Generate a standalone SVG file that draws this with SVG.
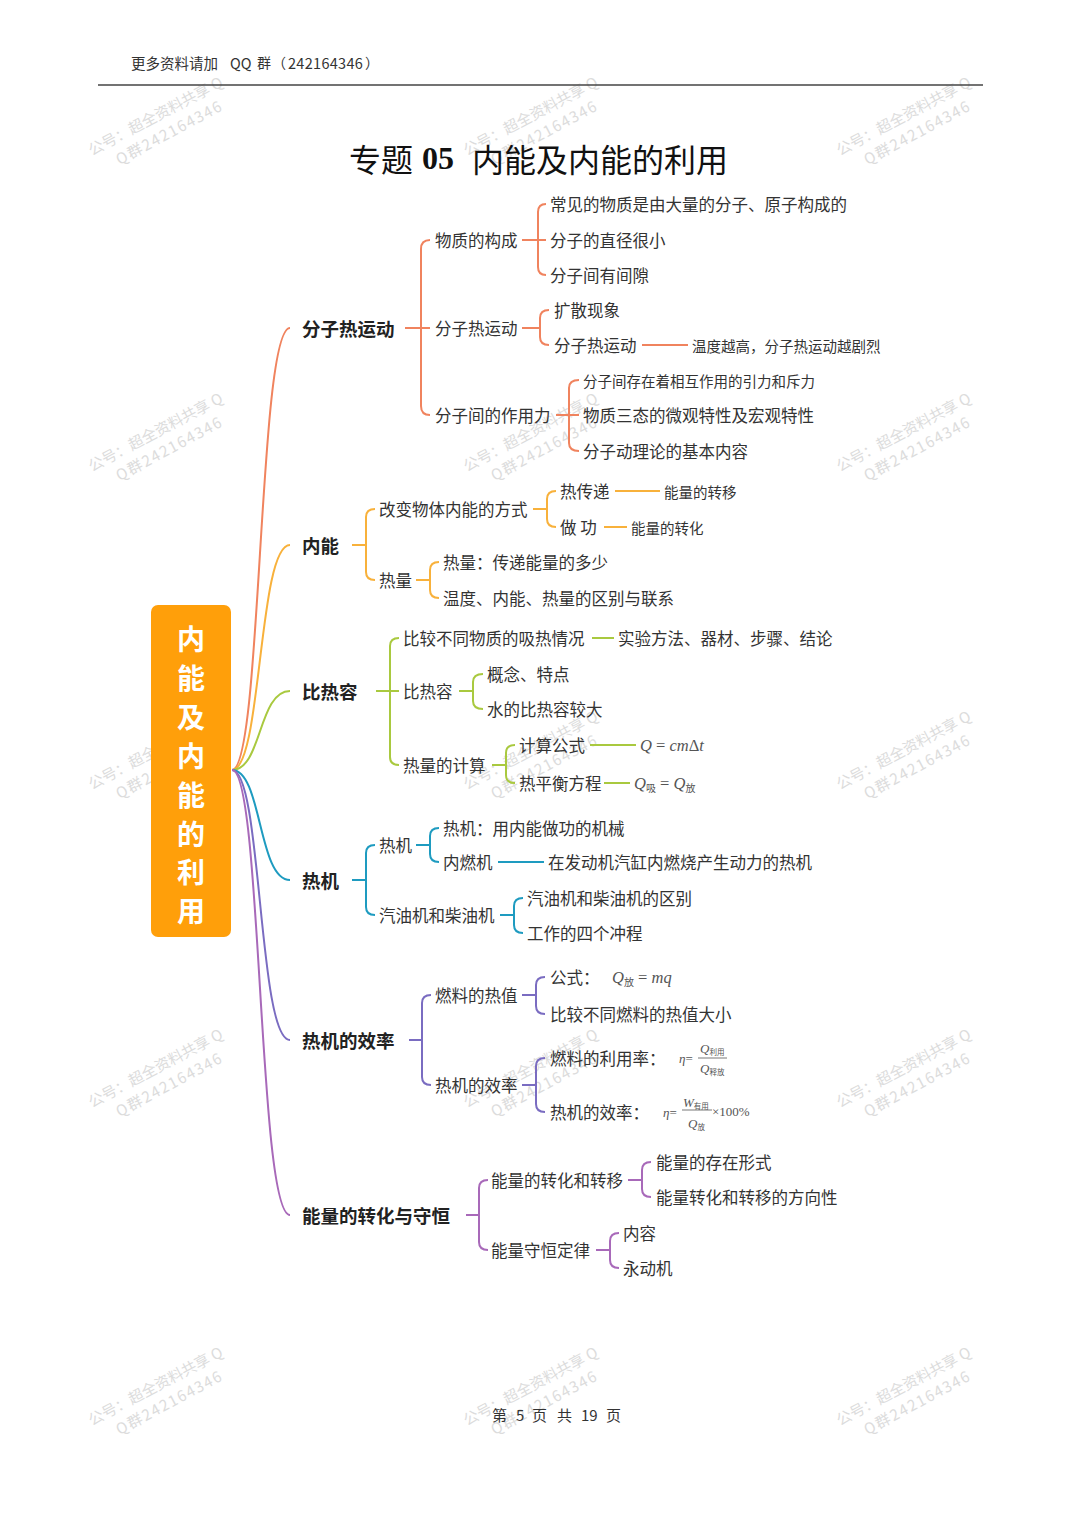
<svg xmlns="http://www.w3.org/2000/svg" xmlns:xlink="http://www.w3.org/1999/xlink" width="1080" height="1527" viewBox="0 0 1080 1527">
<style>
.t{font-family:"Noto Sans CJK SC","Noto Sans",sans-serif;fill:#333;dominant-baseline:central}
.m{font-size:18.5px;font-weight:bold;fill:#222}
.c{font-size:16.5px}
.s{font-size:14.5px}
.f{font-family:"Liberation Serif","Noto Sans CJK SC",serif;font-style:italic;fill:#555;font-size:16.5px;dominant-baseline:central}
.sub{font-family:"Noto Sans CJK SC",sans-serif;font-style:normal;font-size:10px}
.wm{font-family:"Noto Sans CJK SC","Noto Sans",sans-serif;font-size:15px;fill:#dcdcdc}
.root{font-family:"Noto Sans CJK SC",sans-serif;font-size:28px;font-weight:bold;fill:#fff;text-anchor:middle;dominant-baseline:central}
path{fill:none;stroke-width:2}
.c1{stroke:#F0835E}.c2{stroke:#F8B13B}.c3{stroke:#A9C93F}.c4{stroke:#1E9BC0}.c5{stroke:#7A6CC1}.c6{stroke:#A869B9}
</style>
<defs>
<g id="wmk"><text class="wm" x="0" y="0">公号：超全资料共享 Q</text><text class="wm" x="20" y="21" style="letter-spacing:1.6px">Q群242164346</text></g>
</defs>
<rect width="1080" height="1527" fill="#fff"/>
<g id="watermarks">
<use xlink:href="#wmk" transform="translate(92,156) rotate(-28)"/>
<use xlink:href="#wmk" transform="translate(467,156) rotate(-28)"/>
<use xlink:href="#wmk" transform="translate(840,156) rotate(-28)"/>
<use xlink:href="#wmk" transform="translate(92,472) rotate(-28)"/>
<use xlink:href="#wmk" transform="translate(467,472) rotate(-28)"/>
<use xlink:href="#wmk" transform="translate(840,472) rotate(-28)"/>
<use xlink:href="#wmk" transform="translate(92,790) rotate(-28)"/>
<use xlink:href="#wmk" transform="translate(467,790) rotate(-28)"/>
<use xlink:href="#wmk" transform="translate(840,790) rotate(-28)"/>
<use xlink:href="#wmk" transform="translate(92,1108) rotate(-28)"/>
<use xlink:href="#wmk" transform="translate(467,1108) rotate(-28)"/>
<use xlink:href="#wmk" transform="translate(840,1108) rotate(-28)"/>
<use xlink:href="#wmk" transform="translate(92,1426) rotate(-28)"/>
<use xlink:href="#wmk" transform="translate(467,1426) rotate(-28)"/>
<use xlink:href="#wmk" transform="translate(840,1426) rotate(-28)"/>
</g>
<g id="header">
<text x="131" y="62" class="t" style="font-size:14.5px">更多资料请加</text>
<text x="230" y="62" class="t" style="font-size:14.5px">QQ</text>
<text x="257" y="62" class="t" style="font-size:14px">群</text>
<text x="272" y="62" class="t" style="font-size:14px">（</text>
<text x="288" y="62" class="t" style="font-size:14.5px;letter-spacing:0.3px">242164346</text>
<text x="365" y="62" class="t" style="font-size:14px">）</text>
<line x1="98" y1="85" x2="983" y2="85" stroke="#444" stroke-width="1.5"/>
</g>
<g id="title">
<text x="349" y="158" class="t" style="font-size:32px;fill:#111">专题</text>
<text x="422" y="158" style="font-family:'Liberation Serif',serif;font-weight:bold;font-size:32px;fill:#111;dominant-baseline:central">05</text>
<text x="472" y="158" class="t" style="font-size:32px;fill:#111">内能及内能的利用</text>
</g>
<g id="footer">
<text x="492" y="1414" class="t" style="font-size:15px">第</text>
<text x="516" y="1414" class="t" style="font-size:15px">5</text>
<text x="532" y="1414" class="t" style="font-size:15px">页</text>
<text x="557" y="1414" class="t" style="font-size:15px">共</text>
<text x="581" y="1414" class="t" style="font-size:15px">19</text>
<text x="606" y="1414" class="t" style="font-size:15px">页</text>
</g>
<g id="connectors">
<path class="c1" d="M232,770 C262,770 258,328 290,328"/>
<path class="c2" d="M232,770 C262,770 258,545 290,545"/>
<path class="c3" d="M232,770 C262,770 258,691 290,691"/>
<path class="c4" d="M232,770 C262,770 258,880 290,880"/>
<path class="c5" d="M232,770 C262,770 258,1040 290,1040"/>
<path class="c6" d="M232,770 C262,770 258,1215 290,1215"/>
<path class="c1" d="M405,328 H430 M430,240 Q421,240 421,249 V406 Q421,415 430,415"/>
<path class="c1" d="M522,240 H546 M546,204 Q538,204 538,212 V267 Q538,275 546,275"/>
<path class="c1" d="M522,328 H540 M549,310 Q540,310 540,318 V337 Q540,345 549,345"/>
<path class="c1" d="M642,345 H688"/>
<path class="c1" d="M556,415 H579 M579,380 Q569,380 569,388 V443 Q569,451 579,451"/>
<path class="c2" d="M352,545 H366 M375,509 Q366,509 366,517 V572 Q366,580 375,580"/>
<path class="c2" d="M533,509 H547 M556,491 Q547,491 547,499 V519 Q547,527 556,527"/>
<path class="c2" d="M615,491 H660 M604,527 H627"/>
<path class="c2" d="M416,580 H430 M439,562 Q430,562 430,570 V590 Q430,598 439,598"/>
<path class="c3" d="M376,691 H399 M399,638 Q390,638 390,646 V757 Q390,765 399,765"/>
<path class="c3" d="M592,638 H614"/>
<path class="c3" d="M459,691 H473 M483,674 Q473,674 473,682 V701 Q473,709 483,709"/>
<path class="c3" d="M492,765 H506 M515,745 Q506,745 506,753 V775 Q506,783 515,783"/>
<path class="c3" d="M590,745 H636 M604,783 H630"/>
<path class="c4" d="M352,880 H366 M375,845 Q366,845 366,853 V907 Q366,915 375,915"/>
<path class="c4" d="M416,845 H430 M439,828 Q430,828 430,836 V854 Q430,862 439,862"/>
<path class="c4" d="M498,862 H544"/>
<path class="c4" d="M500,915 H514 M523,898 Q514,898 514,906 V925 Q514,933 523,933"/>
<path class="c5" d="M409,1040 H422 M431,995 Q422,995 422,1003 V1077 Q422,1085 431,1085"/>
<path class="c5" d="M522,995 H536 M545,977 Q536,977 536,985 V1006 Q536,1014 545,1014"/>
<path class="c5" d="M522,1085 H536 M545,1058 Q536,1058 536,1066 V1104 Q536,1112 545,1112"/>
<path class="c6" d="M466,1215 H479 M488,1180 Q479,1180 479,1188 V1242 Q479,1250 488,1250"/>
<path class="c6" d="M628,1180 H642 M651,1162 Q642,1162 642,1170 V1189 Q642,1197 651,1197"/>
<path class="c6" d="M596,1250 H610 M619,1233 Q610,1233 610,1241 V1260 Q610,1268 619,1268"/>
</g>
<g id="root">
<rect x="151" y="605" width="80" height="332" rx="7" fill="#FF9F0A"/>
<text class="root" x="191" y="638">内</text>
<text class="root" x="191" y="677">能</text>
<text class="root" x="191" y="716">及</text>
<text class="root" x="191" y="755">内</text>
<text class="root" x="191" y="794">能</text>
<text class="root" x="191" y="833">的</text>
<text class="root" x="191" y="871">利</text>
<text class="root" x="191" y="910">用</text>
</g>
<g id="n1"><text class="t m" x="302" y="328">分子热运动</text></g>
<g id="n1a"><text class="t c" x="435" y="240">物质的构成</text></g>
<g id="n1a1"><text class="t c" x="550" y="204">常见的物质是由大量的分子、原子构成的</text></g>
<g id="n1a2"><text class="t c" x="550" y="240">分子的直径很小</text></g>
<g id="n1a3"><text class="t c" x="550" y="275">分子间有间隙</text></g>
<g id="n1b"><text class="t c" x="435" y="328">分子热运动</text></g>
<g id="n1b1"><text class="t c" x="554" y="310">扩散现象</text></g>
<g id="n1b2"><text class="t c" x="554" y="345">分子热运动</text></g>
<g id="n1b2a"><text class="t s" x="692" y="345">温度越高，分子热运动越剧烈</text></g>
<g id="n1c"><text class="t c" x="435" y="415">分子间的作用力</text></g>
<g id="n1c1"><text class="t s" x="583" y="380">分子间存在着相互作用的引力和斥力</text></g>
<g id="n1c2"><text class="t c" x="583" y="415">物质三态的微观特性及宏观特性</text></g>
<g id="n1c3"><text class="t c" x="583" y="451">分子动理论的基本内容</text></g>
<g id="n2"><text class="t m" x="302" y="545">内能</text></g>
<g id="n2a"><text class="t c" x="379" y="509">改变物体内能的方式</text></g>
<g id="n2a1"><text class="t c" x="560" y="491">热传递</text></g>
<g id="n2a1a"><text class="t s" x="664" y="491">能量的转移</text></g>
<g id="n2a2"><text class="t c" x="560" y="527">做 功</text></g>
<g id="n2a2a"><text class="t s" x="631" y="527">能量的转化</text></g>
<g id="n2b"><text class="t c" x="379" y="580">热量</text></g>
<g id="n2b1"><text class="t c" x="443" y="562">热量：传递能量的多少</text></g>
<g id="n2b2"><text class="t c" x="443" y="598">温度、内能、热量的区别与联系</text></g>
<g id="n3"><text class="t m" x="302" y="691">比热容</text></g>
<g id="n3a"><text class="t c" x="403" y="638">比较不同物质的吸热情况</text></g>
<g id="n3a1"><text class="t c" x="618" y="638">实验方法、器材、步骤、结论</text></g>
<g id="n3b"><text class="t c" x="403" y="691">比热容</text></g>
<g id="n3b1"><text class="t c" x="487" y="674">概念、特点</text></g>
<g id="n3b2"><text class="t c" x="487" y="709">水的比热容较大</text></g>
<g id="n3c"><text class="t c" x="403" y="765">热量的计算</text></g>
<g id="n3c1"><text class="t c" x="519" y="745">计算公式</text></g>
<g id="n3c1a"><text class="f" x="640" y="745">Q <tspan font-style="normal">=</tspan> cm<tspan font-style="normal">Δ</tspan>t</text></g>
<g id="n3c2"><text class="t c" x="519" y="783">热平衡方程</text></g>
<g id="n3c2a"><text class="f" x="634" y="783">Q<tspan class="sub" dy="4">吸</tspan><tspan font-style="normal" dy="-4"> = </tspan>Q<tspan class="sub" dy="4">放</tspan></text></g>
<g id="n4"><text class="t m" x="302" y="880">热机</text></g>
<g id="n4a"><text class="t c" x="379" y="845">热机</text></g>
<g id="n4a1"><text class="t c" x="443" y="828">热机：用内能做功的机械</text></g>
<g id="n4a2"><text class="t c" x="443" y="862">内燃机</text></g>
<g id="n4a2a"><text class="t c" x="548" y="862">在发动机汽缸内燃烧产生动力的热机</text></g>
<g id="n4b"><text class="t c" x="379" y="915">汽油机和柴油机</text></g>
<g id="n4b1"><text class="t c" x="527" y="898">汽油机和柴油机的区别</text></g>
<g id="n4b2"><text class="t c" x="527" y="933">工作的四个冲程</text></g>
<g id="n5"><text class="t m" x="302" y="1040">热机的效率</text></g>
<g id="n5a"><text class="t c" x="435" y="995">燃料的热值</text></g>
<g id="n5a1"><text class="t c" x="550" y="977">公式：</text><text class="f" x="612" y="977">Q<tspan class="sub" dy="4">放</tspan><tspan font-style="normal" dy="-4"> = </tspan>mq</text></g>
<g id="n5a2"><text class="t c" x="550" y="1014">比较不同燃料的热值大小</text></g>
<g id="n5b"><text class="t c" x="435" y="1085">热机的效率</text></g>
<g id="n5b1"><text class="t c" x="550" y="1058">燃料的利用率：</text>
<text class="f" x="679" y="1058" style="font-size:13px">η<tspan font-style="normal">=</tspan></text>
<text class="f" x="700" y="1048" style="font-size:13px">Q<tspan class="sub" style="font-size:7.5px" dy="3">利用</tspan></text>
<line x1="698" y1="1058" x2="727" y2="1058" stroke="#555" stroke-width="0.8"/>
<text class="f" x="700" y="1068" style="font-size:13px">Q<tspan class="sub" style="font-size:7.5px" dy="3">释放</tspan></text></g>
<g id="n5b2"><text class="t c" x="550" y="1112">热机的效率：</text>
<text class="f" x="663" y="1112" style="font-size:13px">η<tspan font-style="normal">=</tspan></text>
<text class="f" x="683" y="1102" style="font-size:13px">W<tspan class="sub" style="font-size:7.5px" dy="3">有用</tspan></text>
<line x1="682" y1="1110" x2="712" y2="1110" stroke="#555" stroke-width="0.8"/>
<text class="f" x="688" y="1123" style="font-size:13px">Q<tspan class="sub" style="font-size:7.5px" dy="3">放</tspan></text>
<text class="f" x="712" y="1111" style="font-size:13px;font-style:normal">×100%</text></g>
<g id="n6"><text class="t m" x="302" y="1215">能量的转化与守恒</text></g>
<g id="n6a"><text class="t c" x="491" y="1180">能量的转化和转移</text></g>
<g id="n6a1"><text class="t c" x="656" y="1162">能量的存在形式</text></g>
<g id="n6a2"><text class="t c" x="656" y="1197">能量转化和转移的方向性</text></g>
<g id="n6b"><text class="t c" x="491" y="1250">能量守恒定律</text></g>
<g id="n6b1"><text class="t c" x="623" y="1233">内容</text></g>
<g id="n6b2"><text class="t c" x="623" y="1268">永动机</text></g>
</svg>
